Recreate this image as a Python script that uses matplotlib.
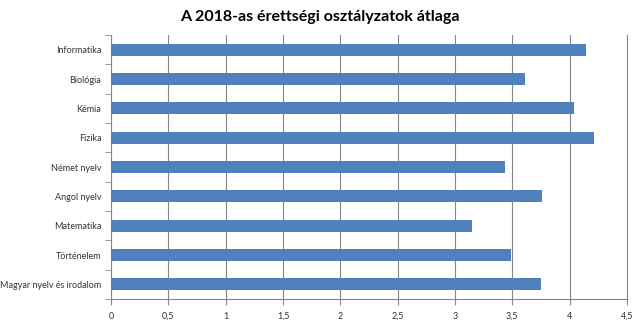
import matplotlib.pyplot as plt
import numpy as np

plt.rcParams['font.family'] = ['Lato', 'DejaVu Sans']

# Tantárgyak alulról felfelé, ahogy a tengelyen állnak
targyak = ["Magyar nyelv és irodalom", "Történelem", "Matematika", "Angol nyelv",
           "Német nyelv", "Fizika", "Kémia", "Biológia", "Informatika"]
atlagok = [3.75, 3.49, 3.15, 3.76, 3.44, 4.21, 4.04, 3.61, 4.14]
x_ticks = [0, 0.5, 1, 1.5, 2, 2.5, 3, 3.5, 4, 4.5]
x_labels = ["0", "0,5", "1", "1,5", "2", "2,5", "3", "3,5", "4", "4,5"]

fig = plt.figure(figsize=(6.4, 3.22), dpi=100)
ax = fig.add_axes([0.1734, 0.0714, 0.8063, 0.8199])

y = np.arange(len(targyak))
ax.barh(y, atlagok, height=0.4, color="#4F81BD", zorder=3)

ax.set_xlim(0, 4.5)
ax.set_ylim(-0.5, len(targyak) - 0.5)
ax.set_xticks(x_ticks)
ax.set_xticklabels(x_labels, fontsize=6.5, color="#333333")
ax.set_yticks(y)
ax.set_yticklabels(targyak, fontsize=6.5, color="#333333")
ax.set_yticks(np.arange(-0.5, len(targyak)), minor=True)
ax.tick_params(axis="y", which="major", length=0, pad=7)
ax.tick_params(axis="y", which="minor", length=4, color="#868686")
ax.tick_params(axis="x", length=4, color="#868686", pad=5)

ax.grid(axis="x", color="#868686", linewidth=0.8, zorder=0)
for s in ["top", "right"]:
    ax.spines[s].set_visible(False)
for s in ["left", "bottom"]:
    ax.spines[s].set_color("#868686")
ax.axvline(4.5, color="#868686", linewidth=0.8, clip_on=False, zorder=0)

fig.suptitle("A 2018-as érettségi osztályzatok átlaga", fontsize=11.5, fontweight="bold",
             x=0.5, y=0.97)

plt.savefig("out.png")
